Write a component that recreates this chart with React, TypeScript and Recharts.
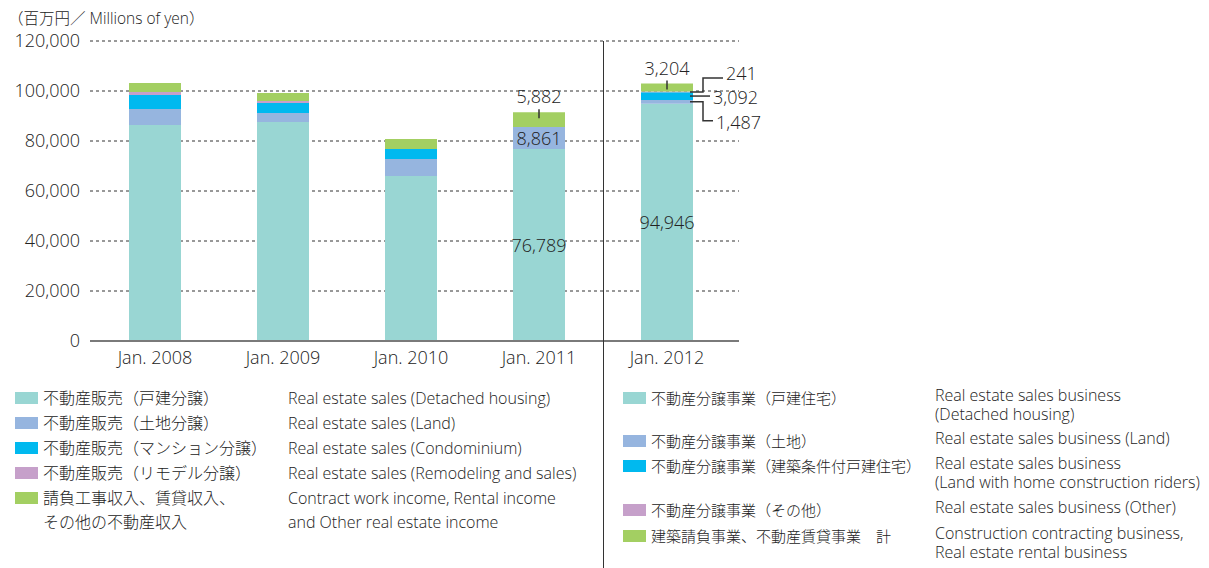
import { BarChart, Bar, XAxis, YAxis, CartesianGrid, LabelList } from "recharts";

const categories = ["Jan. 2008", "Jan. 2009", "Jan. 2010", "Jan. 2011", "Jan. 2012"];
const detached = [86400, 87600, 66000, 76789, 94946];
const land = [6400, 3600, 6800, 8861, 1487];
const condo = [5600, 4000, 4000, 0, 3092];
const remodel = [1200, 800, 0, 0, 241];
const other = [3600, 3200, 4000, 5882, 3204];
const yTicks = [0, 20000, 40000, 60000, 80000, 100000, 120000];

const colors = ["#99d6d3", "#96b5df", "#00b9ef", "#c6a0ca", "#a3cf62"];

const legendLeftJp = [
  "不動産販売（戸建分譲）",
  "不動産販売（土地分譲）",
  "不動産販売（マンション分譲）",
  "不動産販売（リモデル分譲）",
  "請負工事収入、賃貸収入、\nその他の不動産収入",
];
const legendLeftEn = [
  "Real estate sales (Detached housing)",
  "Real estate sales (Land)",
  "Real estate sales (Condominium)",
  "Real estate sales (Remodeling and sales)",
  "Contract work income, Rental income\nand Other real estate income",
];
const legendRightJp = [
  "不動産分譲事業（戸建住宅）",
  "不動産分譲事業（土地）",
  "不動産分譲事業（建築条件付戸建住宅）",
  "不動産分譲事業（その他）",
  "建築請負事業、不動産賃貸事業　計",
];
const legendRightEn = [
  "Real estate sales business\n(Detached housing)",
  "Real estate sales business (Land)",
  "Real estate sales business\n(Land with home construction riders)",
  "Real estate sales business (Other)",
  "Construction contracting business,\nReal estate rental business",
];
const leftRowTops = [386, 411, 436, 461, 486];
const rightRowTops = [386, 429, 454, 498, 524];

const data = categories.map((name, i) => ({
  name,
  detached: detached[i],
  land: land[i],
  condo: condo[i],
  remodel: remodel[i],
  other: other[i],
}));

const FONT = "'Open Sans', 'Noto Sans', 'Noto Sans CJK JP', sans-serif";
const TEXT = "#222";
const WEIGHT = 300;
const fmt = (v: number) => v.toLocaleString("en-US");

// bars with zero height get dropped, so pick the labelled ones by value
const insideLabel = (which: number[]) => (props: any) => {
  const { x, y, width, height, value } = props;
  if (!which.includes(Number(value))) return null;
  return (
    <text x={x + width / 2} y={y + height / 2} textAnchor="middle" dominantBaseline="central"
      fill={TEXT} fontSize={18} fontFamily={FONT} fontWeight={WEIGHT}>
      {fmt(value)}
    </text>
  );
};

// label above the top segment with a small tick
const topLabel = (which: number[]) => (props: any) => {
  const { x, y, width, value } = props;
  if (!which.includes(Number(value))) return null;
  const cx = x + width / 2;
  return (
    <g>
      <line x1={cx} x2={cx} y1={y - 3} y2={y + 6} stroke="#333" strokeWidth={1.5} />
      <text x={cx} y={y - 16} textAnchor="middle" dominantBaseline="central"
        fill={TEXT} fontSize={18} fontFamily={FONT} fontWeight={WEIGHT}>
        {fmt(value)}
      </text>
    </g>
  );
};

// leader line out to the right: dy = vertical offset of the label
const sideLabel = (target: number, dy: number, run: number) => (props: any) => {
  const { x, y, width, height, value } = props;
  if (Number(value) !== target) return null;
  const sx = x + width - 3;
  const my = y + height / 2;
  const bx = x + width + 10;
  const ly = my + dy;
  const ex = dy === 0 ? x + width + run : bx + run;
  const d = dy === 0 ? `M${sx},${my} H${ex}` : `M${sx},${my} H${bx} V${ly} H${ex}`;
  return (
    <g>
      <path d={d} fill="none" stroke="#333" strokeWidth={1.5} />
      <text x={ex + 3} y={dy < 0 ? ly - 5 : ly + 1} dominantBaseline="central"
        fill={TEXT} fontSize={18} fontFamily={FONT} fontWeight={WEIGHT}>
        {fmt(value)}
      </text>
    </g>
  );
};

function LegendBlock({ swatchX, jpX, enX, jp, en, tops, enLine, jpSize }: any) {
  return (
    <>
      {jp.map((t: string, i: number) => (
        <div key={t} style={{ position: "absolute", left: 0, top: tops[i] }}>
          <div style={{ position: "absolute", left: swatchX, top: 6, width: 23, height: 12, background: colors[i] }} />
          <div style={{ position: "absolute", left: jpX, top: 0, whiteSpace: "pre", lineHeight: "24px", fontSize: jpSize }}>{t}</div>
          <div style={{ position: "absolute", left: enX, top: 0, whiteSpace: "pre", lineHeight: enLine, fontSize: 16 }}>{en[i]}</div>
        </div>
      ))}
    </>
  );
}

export default function App() {
  return (
    <div style={{ position: "absolute", left: 0, top: 0, width: 1209, height: 568, background: "#fff", fontFamily: FONT, fontWeight: WEIGHT, color: TEXT, overflow: "hidden" }}>
      <div style={{ position: "absolute", left: 8, top: 6, fontSize: 15.5, whiteSpace: "pre" }}>（百万円／ Millions of yen）</div>
      <div style={{ position: "absolute", left: 0, top: 0 }}>
        <BarChart width={800} height={380} data={data} margin={{ top: 41, right: 61, left: 0, bottom: 0 }} barSize={52}>
          <CartesianGrid vertical={false} stroke="#333" strokeDasharray="3 3" />
          <XAxis dataKey="name" height={39} tickLine={false} tickSize={0} tickMargin={10}
            axisLine={{ stroke: "#7a7a7a", strokeWidth: 2 }} padding={{ left: 1, right: 8 }}
            tick={{ fill: TEXT, fontSize: 18, fontFamily: FONT, fontWeight: WEIGHT }} />
          <YAxis width={90} domain={[0, 120000]} ticks={yTicks} tickFormatter={fmt} axisLine={false}
            tickLine={false} tickSize={0} tickMargin={10} interval={0}
            tick={{ fill: TEXT, fontSize: 18, fontFamily: FONT, fontWeight: WEIGHT }} />
          <Bar dataKey="detached" stackId="a" fill={colors[0]} isAnimationActive={false}>
            <LabelList dataKey="detached" content={insideLabel([detached[3], detached[4]])} />
          </Bar>
          <Bar dataKey="land" stackId="a" fill={colors[1]} isAnimationActive={false}>
            <LabelList dataKey="land" content={insideLabel([land[3]])} />
            <LabelList dataKey="land" content={sideLabel(land[4], 19, 10)} />
          </Bar>
          <Bar dataKey="condo" stackId="a" fill={colors[2]} isAnimationActive={false}>
            <LabelList dataKey="condo" content={sideLabel(condo[4], 0, 17)} />
          </Bar>
          <Bar dataKey="remodel" stackId="a" fill={colors[3]} isAnimationActive={false}>
            <LabelList dataKey="remodel" content={sideLabel(remodel[4], -14, 20)} />
          </Bar>
          <Bar dataKey="other" stackId="a" fill={colors[4]} isAnimationActive={false}>
            <LabelList dataKey="other" content={topLabel([other[3], other[4]])} />
          </Bar>
        </BarChart>
      </div>
      <div style={{ position: "absolute", left: 603, top: 41, width: 1, height: 527, background: "#333" }} />
      <LegendBlock swatchX={15} jpX={43} enX={288} jp={legendLeftJp} en={legendLeftEn} tops={leftRowTops} enLine="24px" jpSize={16} />
      <LegendBlock swatchX={623} jpX={651} enX={935} jp={legendRightJp} en={legendRightEn} tops={rightRowTops} enLine="18.5px" jpSize={15} />
    </div>
  );
}
